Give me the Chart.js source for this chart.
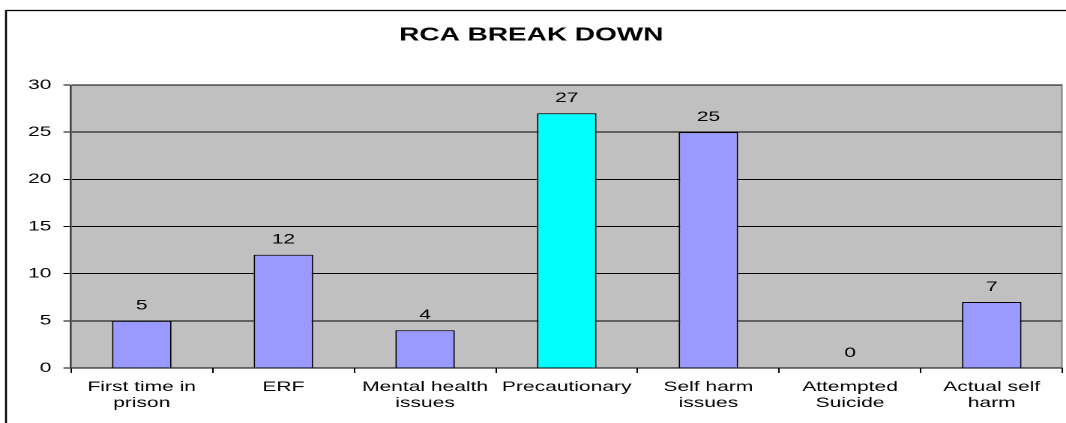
<!DOCTYPE html>
<html>
<head>
<meta charset="utf-8">
<script src="https://cdn.jsdelivr.net/npm/chart.js@4"></script>
<style>
  html, body { margin:0; padding:0; background:#fff; overflow:hidden; }
  /* the original chart is a stretched Excel picture, so draw narrow and stretch sideways */
  #wrap { width:711px; height:423px; transform:scaleX(1.4993); transform-origin:0 0; }
</style>
</head>
<body>
<div id="wrap"><canvas id="rca" width="711" height="423"></canvas></div>
<script>
const categories = [
  ['First time in', 'prison'],
  'ERF',
  ['Mental health', 'issues'],
  'Precautionary',
  ['Self harm', 'issues'],
  ['Attempted', 'Suicide'],
  ['Actual self', 'harm'],
];
const counts   = [5, 12, 4, 27, 25, 0, 7];
const yTicks   = [0, 5, 10, 15, 20, 25, 30];
const highlight = 3; // Precautionary bar is drawn in cyan

const FONT = '"Liberation Sans", Arial, sans-serif';
const TXT = 14;

// grey plot area, outer frame and value labels
const excelLook = {
  id: 'excelLook',
  beforeDraw(chart) {
    const {ctx, chartArea:a} = chart;
    ctx.save();
    ctx.fillStyle = '#c0c0c0';
    ctx.fillRect(a.left, a.top, a.right - a.left, a.bottom - a.top);
    ctx.strokeStyle = '#000';
    ctx.lineWidth = 1.3;
    ctx.strokeRect(4, 10.5, 900, 600);
    ctx.restore();
  },
  afterDraw(chart) {
    const {ctx, chartArea:a} = chart;
    ctx.save();
    ctx.strokeStyle = '#808080';
    ctx.lineWidth = 1;
    ctx.beginPath();
    ctx.moveTo(a.right - 0.5, a.top);
    ctx.lineTo(a.right - 0.5, a.bottom);
    ctx.stroke();
    ctx.restore();
  },
  afterDatasetsDraw(chart) {
    const {ctx} = chart;
    const meta = chart.getDatasetMeta(0);
    ctx.save();
    ctx.font = TXT + 'px ' + FONT;
    ctx.fillStyle = '#000';
    ctx.textAlign = 'center';
    ctx.textBaseline = 'middle';
    meta.data.forEach((bar, i) => {
      ctx.fillText(String(counts[i]), bar.x, bar.y - 15);
    });
    ctx.restore();
  }
};

new Chart(document.getElementById('rca'), {
  type: 'bar',
  data: {
    labels: categories,
    datasets: [{
      data: counts,
      backgroundColor: counts.map((_, i) => i === highlight ? '#00ffff' : '#9999ff'),
      borderColor: '#000',
      borderWidth: 1,
      barPercentage: 0.42,
      categoryPercentage: 1,
    }]
  },
  options: {
    responsive: false,
    animation: false,
    devicePixelRatio: 2,
    layout: { padding: { left: 0, right: 2.3, top: 0, bottom: 0 } },
    plugins: {
      legend: { display: false },
      tooltip: { enabled: false },
      title: {
        display: true,
        text: 'RCA BREAK DOWN',
        color: '#000',
        font: { family: FONT, size: 18.67, weight: 'bold', lineHeight: 1.2 },
        padding: { top: 24, bottom: 38.6 }
      }
    },
    scales: {
      x: {
        afterFit: s => { s.height = 55; },
        grid: { offset: true, drawOnChartArea: false, color: '#000', tickLength: 5 },
        border: { color: '#000', width: 1 },
        ticks: {
          color: '#000', autoSkip: false, maxRotation: 0, padding: 6,
          font: { family: FONT, size: TXT, lineHeight: 1.15 }
        }
      },
      y: {
        min: 0, max: 30,
        afterFit: s => { s.width = 47.3; },
        afterBuildTicks: s => { s.ticks = yTicks.map(v => ({ value: v })); },
        grid: { color: '#000', lineWidth: 1, tickLength: 5 },
        border: { color: '#404040', width: 1.3 },
        ticks: { color: '#000', padding: 8, font: { family: FONT, size: TXT } }
      }
    }
  },
  plugins: [excelLook]
});
</script>
</body>
</html>
